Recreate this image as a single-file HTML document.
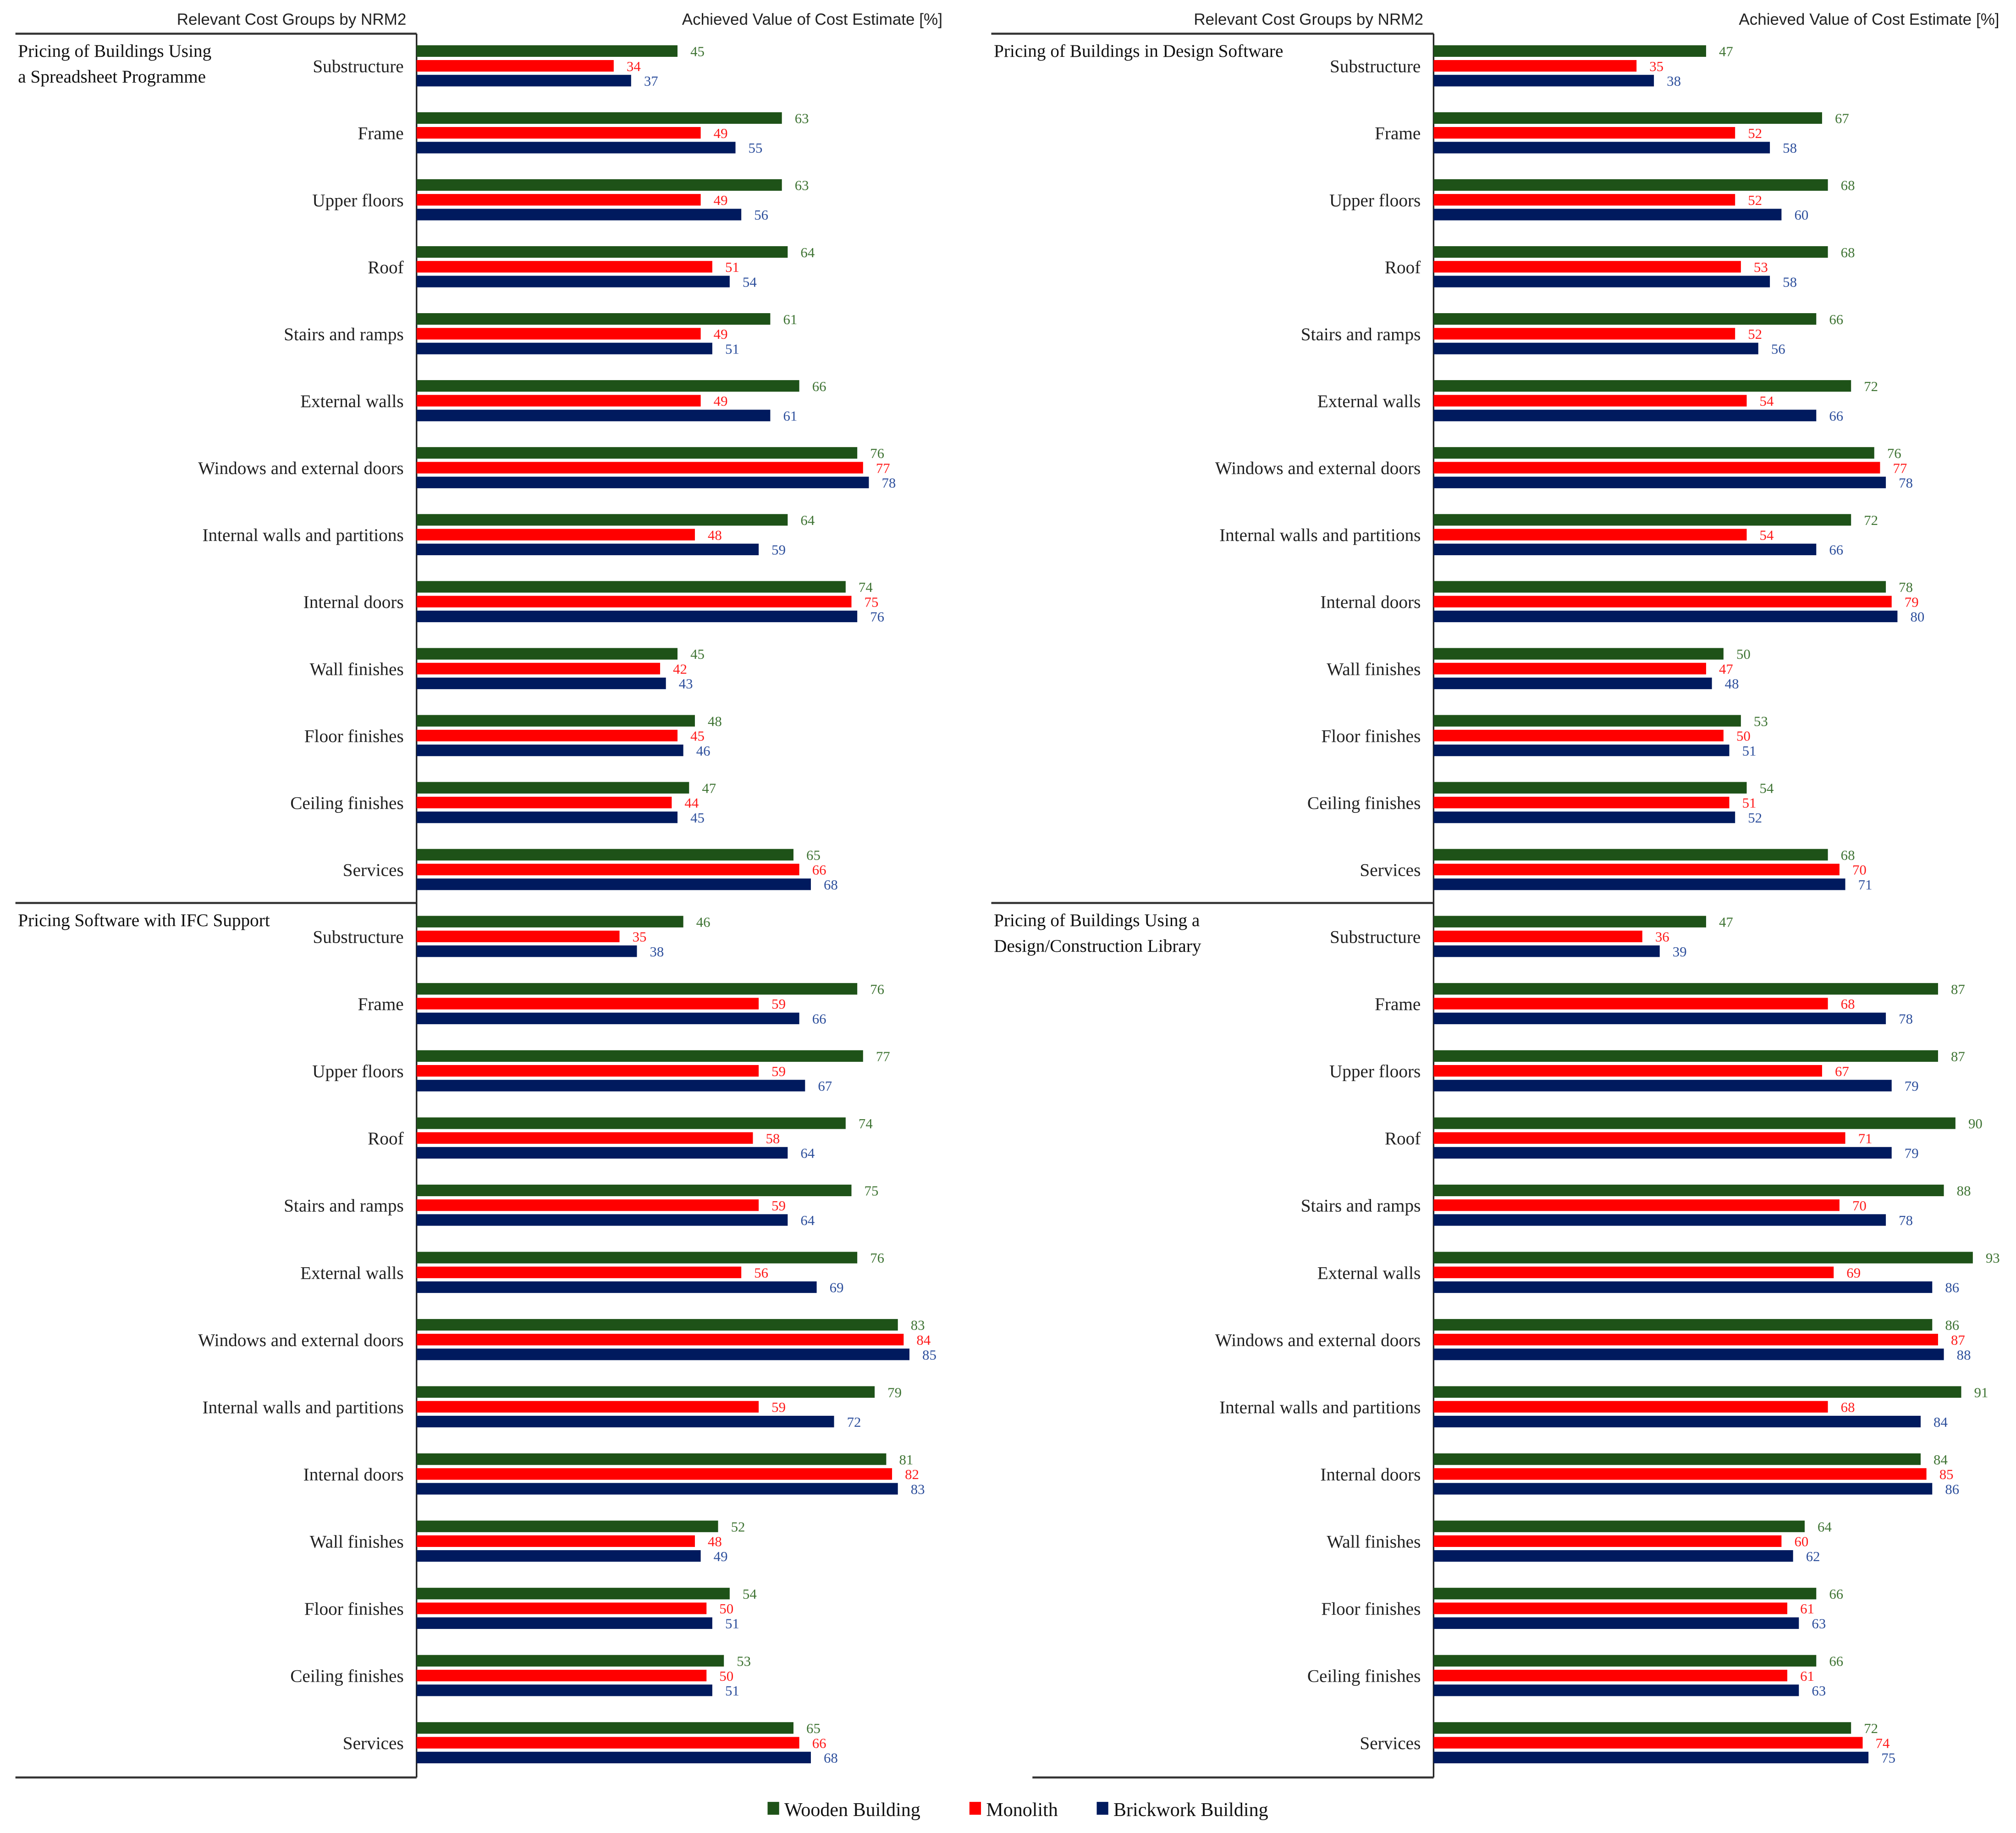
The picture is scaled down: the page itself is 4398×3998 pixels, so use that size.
<!DOCTYPE html>
<html><head><meta charset="utf-8">
<style>
html,body{margin:0;padding:0;background:#fff;}
svg{display:block;}
.cat{font-family:"Liberation Serif",serif;font-size:14px;fill:#222;}
.ttl{font-family:"Liberation Serif",serif;font-size:14px;fill:#111;}
.hdr{font-family:"Liberation Sans",sans-serif;font-size:12.5px;fill:#222;}
.val{font-family:"Liberation Serif",serif;font-size:11px;}
.leg{font-family:"Liberation Serif",serif;font-size:15px;fill:#111;}
</style></head>
<body>
<svg id="chart" width="4398" height="3998" viewBox="0 0 1568 1425" xmlns="http://www.w3.org/2000/svg"></svg>
<script>
const categories = ["Substructure","Frame","Upper floors","Roof","Stairs and ramps","External walls","Windows and external doors","Internal walls and partitions","Internal doors","Wall finishes","Floor finishes","Ceiling finishes","Services"];
const seriesNames = ["Wooden Building","Monolith","Brickwork Building"];
const panelTitles = [["Pricing of Buildings Using","a Spreadsheet Programme"],["Pricing of Buildings in Design Software"],["Pricing Software with IFC Support"],["Pricing of Buildings Using a","Design/Construction Library"]];
const spreadsheetWood = [45,63,63,64,61,66,76,64,74,45,48,47,65];
const spreadsheetMono = [34,49,49,51,49,49,77,48,75,42,45,44,66];
const spreadsheetBrick = [37,55,56,54,51,61,78,59,76,43,46,45,68];
const designWood = [47,67,68,68,66,72,76,72,78,50,53,54,68];
const designMono = [35,52,52,53,52,54,77,54,79,47,50,51,70];
const designBrick = [38,58,60,58,56,66,78,66,80,48,51,52,71];
const ifcWood = [46,76,77,74,75,76,83,79,81,52,54,53,65];
const ifcMono = [35,59,59,58,59,56,84,59,82,48,50,50,66];
const ifcBrick = [38,66,67,64,64,69,85,72,83,49,51,51,68];
const libraryWood = [47,87,87,90,88,93,86,91,84,64,66,66,72];
const libraryMono = [36,68,67,71,70,69,87,68,85,60,61,61,74];
const libraryBrick = [39,78,79,79,78,86,88,84,86,62,63,63,75];

const NS="http://www.w3.org/2000/svg";
const svg=document.getElementById('chart');
const barColors=["#1e5218","#ff0000","#001a5e"];
const valColors=["#3f7434","#ff1a1a","#2d4f9c"];
function mk(tag,attrs,parent){const e=document.createElementNS(NS,tag);for(const k in attrs)e.setAttribute(k,attrs[k]);(parent||svg).appendChild(e);return e;}

const panels=[
 {data:[spreadsheetWood,spreadsheetMono,spreadsheetBrick],ax:324,lineX:12,top:26,bottom:702,first:51,step:52.08,title:panelTitles[0],name:'spreadsheet',hdrEnd:733},
 {data:[designWood,designMono,designBrick],ax:1115,lineX:771,top:26,bottom:702,first:51,step:52.08,title:panelTitles[1],name:'design-software',hdrEnd:1555},
 {data:[ifcWood,ifcMono,ifcBrick],ax:324,lineX:12,top:702,bottom:1382,first:728,step:52.25,title:panelTitles[2],name:'ifc-software'},
 {data:[libraryWood,libraryMono,libraryBrick],ax:1115,lineX:771,top:702,bottom:1382,first:728,step:52.25,title:panelTitles[3],name:'design-library'}
];
const k=4.51;
function xScale(p,v){return p.ax+v*k;}
function yScale(p,i){return p.first+i*p.step;}
const offs=[-11.5,0,11.5];

panels.forEach((p,pi)=>{
  const g=mk('g',{});
  
  
  const tl=mk('line',{x1:p.lineX,x2:p.ax,y1:p.top,y2:p.top,stroke:'#333','stroke-width':1.6},g);
  
  
  const va=mk('line',{x1:p.ax,x2:p.ax,y1:p.top,y2:p.bottom,stroke:'#222','stroke-width':1.2},g);
  
  
  if(pi>=2){
    const bl=mk('line',{x1:(pi==3?803:12),x2:p.ax,y1:1382,y2:1382,stroke:'#333','stroke-width':1.6},g);
    
    
  }
  p.title.forEach((t,li)=>{
    const tt=mk('text',{x:p.lineX+2,y:p.top+18+li*20,class:'ttl'},g);
    tt.textContent=t;
    
    
  });
  categories.forEach((c,i)=>{
    const cy=yScale(p,i);
    const ct=mk('text',{x:p.ax-10,y:cy+5,class:'cat','text-anchor':'end'},g);
    ct.textContent=c;
    
    
    p.data.forEach((arr,s)=>{
      const v=arr[i];
      const by=cy+offs[s]-4.5;
      const r=mk('rect',{x:p.ax,y:by,width:xScale(p,v)-p.ax,height:9,fill:barColors[s]},g);
      
      
      const vt=mk('text',{x:xScale(p,v)+10,y:by+8.5,class:'val',fill:valColors[s]},g);
      vt.textContent=v;
      
      
    });
  });
  if(pi<2){
    const h1=mk('text',{x:p.ax-8,y:19,class:'hdr','text-anchor':'end'},g);
    h1.textContent='Relevant Cost Groups by NRM2';
    
    
    const h2=mk('text',{x:p.hdrEnd,y:19,class:'hdr','text-anchor':'end'},g);
    h2.textContent='Achieved Value of Cost Estimate [%]';
    
    
  }
});

const legX=[597,754,853];
seriesNames.forEach((n,s)=>{
  const lg=mk('g',{});
  
  
  mk('rect',{x:legX[s],y:1401,width:9,height:10,fill:barColors[s]},lg);
  const t=mk('text',{x:legX[s]+13,y:1412,class:'leg'},lg);
  t.textContent=n;
});
</script>
</body></html>
